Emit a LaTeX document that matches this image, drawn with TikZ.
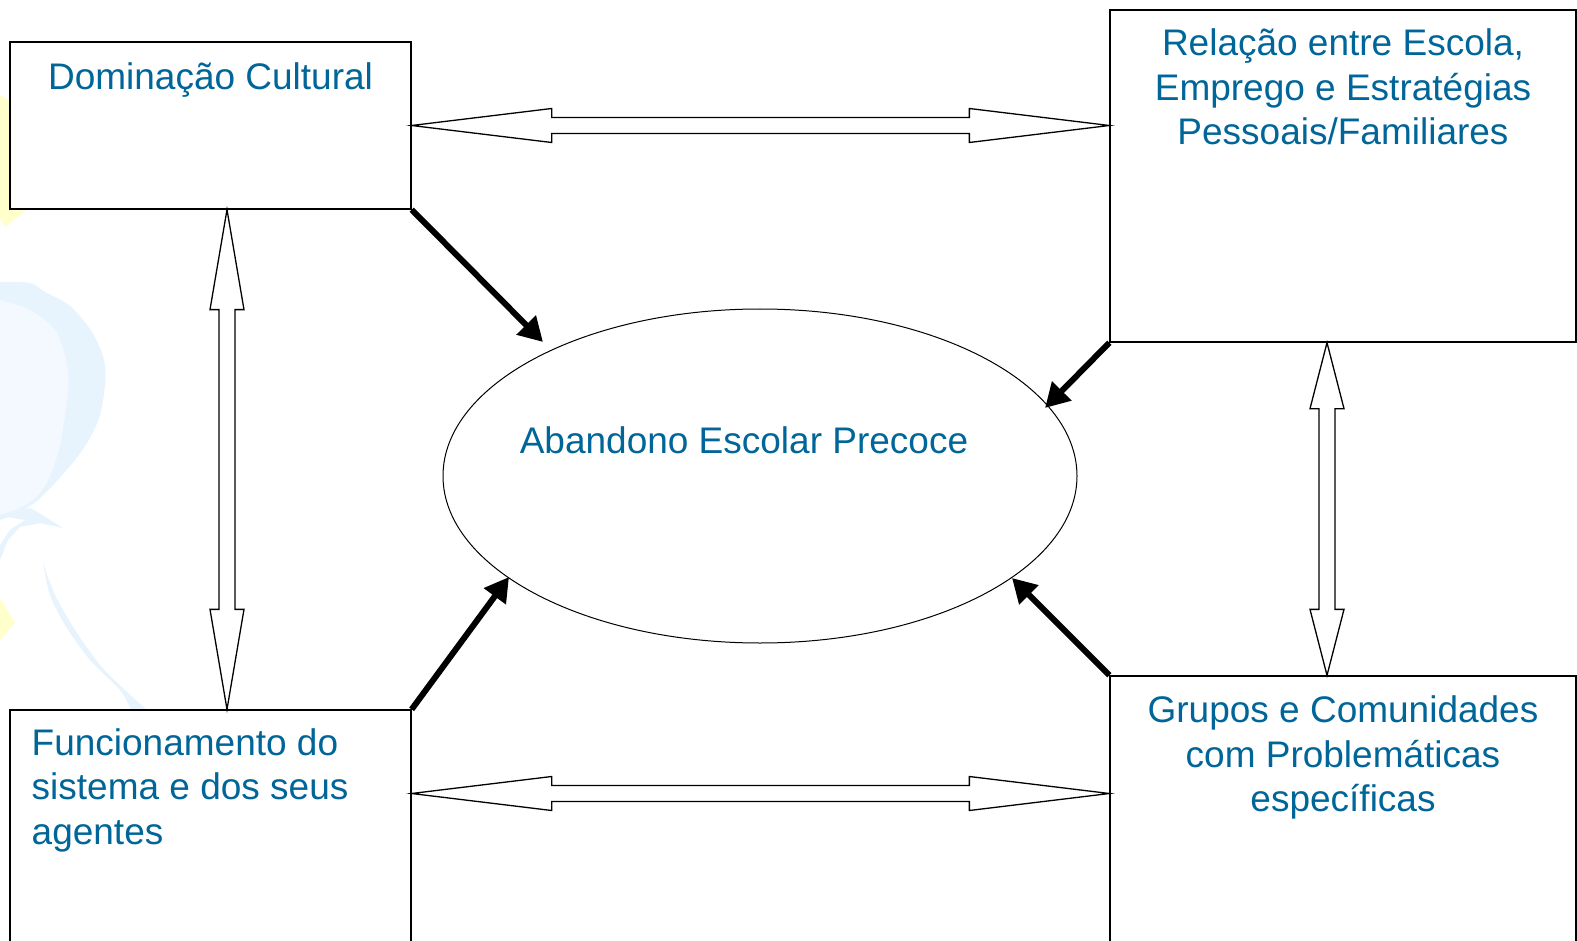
\documentclass[tikz,border=0pt]{standalone}
\usepackage{fontspec}
\setmainfont{Liberation Sans}
\usetikzlibrary{arrows.meta,calc,shapes.geometric}
\definecolor{txtblue}{RGB}{0,102,153}
\definecolor{wmblue}{RGB}{232,244,253}
\definecolor{wmblueL}{RGB}{243,249,254}
\definecolor{wmyellow}{RGB}{255,255,204}
\newcommand\textlines[2]{\begin{tabular}[t]{@{}#1@{}}#2\end{tabular}}
\tikzset{
  boxnode/.style={draw=black, line width=1.3pt, fill=white, rectangle, inner sep=0pt},
  txt/.style={text=txtblue, font=\fontsize{37}{44.5}\selectfont, inner sep=0pt},
  blk/.style={draw=black, line width=1.3pt, fill=white, line join=miter},
  thick arrow/.style={line width=6pt, -{Triangle[length=24pt,width=26pt]}},
}
\begin{document}
\begin{tikzpicture}[x=1pt,y=-1pt]
\useasboundingbox (0,0) rectangle (1577,941);
\clip (0,0) rectangle (1577,941);
\fill[white] (0,0) rectangle (1577,941);

% faint watermark
\fill[wmyellow] (0,95) -- (12,102) -- (12,209) -- (28,209) -- (5,227) -- (0,218) -- cycle;
\fill[wmyellow] (0,598) -- (15,623) -- (0,640) -- cycle;
\fill[wmblue] plot[smooth] coordinates {(0,282) (30,283) (45,292) (70,306) (92,332) (104,360) (105,385) (100,415) (90,438) (75,460) (55,483) (38,500) (20,512) (0,520)} -- cycle;
\fill[wmblueL] plot[smooth] coordinates {(0,300) (30,310) (55,330) (66,360) (68,390) (60,445) (48,480) (33,500) (10,512) (0,514)} -- cycle;
\fill[wmblue] (5,513) -- (31,508) -- (63,528) -- (40,523) -- (20,527) -- (8,540) -- (0,560) -- (0,545) -- (10,530) -- (25,520) -- (7,517) -- cycle;
\fill[wmblue] plot[smooth] coordinates {(43,563) (50,595) (65,625) (90,660) (120,690) (132,712)} -- (150,712) -- plot[smooth] coordinates {(147,710) (125,690) (100,665) (75,630) (55,595) (43,563)} -- cycle;

% boxes
\node[boxnode, minimum width=401pt, minimum height=167pt] (dom) at (210.5,125.5) {};
\node[boxnode, minimum width=466pt, minimum height=332pt] (rel) at (1343,176) {};
\node[boxnode, minimum width=401pt, minimum height=260pt] (fun) at (210.5,840) {};
\node[boxnode, minimum width=466pt, minimum height=294pt] (grp) at (1343,823) {};
\node[draw=black, line width=1pt, fill=white, ellipse, inner sep=0pt,
      minimum width=634pt, minimum height=334pt] (ab) at (760,476) {};

% texts
\node[txt, anchor=base] (domt) at (210.5,89.3) {Dominação Cultural};
\node[txt, anchor=base] (relt) at (1343,55.7) {\textlines{c}{Relação entre Escola,\\Emprego e Estratégias\\Pessoais/Familiares}};
\node[txt, anchor=base west] (funt) at (31.5,755) {\textlines{l}{Funcionamento do\\sistema e dos seus\\agentes}};
\node[txt, anchor=base] (grpt) at (1343,722.7) {\textlines{c}{Grupos e Comunidades\\com Problemáticas\\específicas}};
\node[txt, anchor=base] (abt) at (744,453.3) {Abandono Escolar Precoce};

% block double arrows
\coordinate (hA) at (dom.east);
\coordinate (hB) at (rel.west |- dom.east);
\draw[blk] (hA) -- ($(hA)+(140,-17)$) -- ($(hA)+(140,-8)$) -- ($(hB)+(-140,-8)$) -- ($(hB)+(-140,-17)$) -- (hB)
  -- ($(hB)+(-140,17)$) -- ($(hB)+(-140,8)$) -- ($(hA)+(140,8)$) -- ($(hA)+(140,17)$) -- cycle;

\coordinate (gA) at (fun.east |- 0,793.5);
\coordinate (gB) at (grp.west |- 0,793.5);
\draw[blk] (gA) -- ($(gA)+(140,-17)$) -- ($(gA)+(140,-8)$) -- ($(gB)+(-140,-8)$) -- ($(gB)+(-140,-17)$) -- (gB)
  -- ($(gB)+(-140,17)$) -- ($(gB)+(-140,8)$) -- ($(gA)+(140,8)$) -- ($(gA)+(140,17)$) -- cycle;

\coordinate (vA) at (dom.south -| 227,0);
\coordinate (vB) at (fun.north -| 227,0);
\draw[blk] (vA) -- ($(vA)+(17,100)$) -- ($(vA)+(8,100)$) -- ($(vB)+(8,-100)$) -- ($(vB)+(17,-100)$) -- (vB)
  -- ($(vB)+(-17,-100)$) -- ($(vB)+(-8,-100)$) -- ($(vA)+(-8,100)$) -- ($(vA)+(-17,100)$) -- cycle;

\coordinate (wA) at (rel.south -| 1327,0);
\coordinate (wB) at (grp.north -| 1327,0);
\draw[blk] (wA) -- ($(wA)+(17,66)$) -- ($(wA)+(8,66)$) -- ($(wB)+(8,-66)$) -- ($(wB)+(17,-66)$) -- (wB)
  -- ($(wB)+(-17,-66)$) -- ($(wB)+(-8,-66)$) -- ($(wA)+(-8,66)$) -- ($(wA)+(-17,66)$) -- cycle;

% thick arrows into the ellipse
\coordinate (t1) at (543,342);
\coordinate (t2) at (509,577);
\coordinate (t3) at (1045,408);
\coordinate (t4) at (1012,578);
\draw[thick arrow] (dom.south east) -- (t1);
\draw[thick arrow] (fun.north east) -- (t2);
\draw[thick arrow] (rel.south west) -- (t3);
\draw[thick arrow] (grp.north west) -- (t4);
\end{tikzpicture}
\end{document}
